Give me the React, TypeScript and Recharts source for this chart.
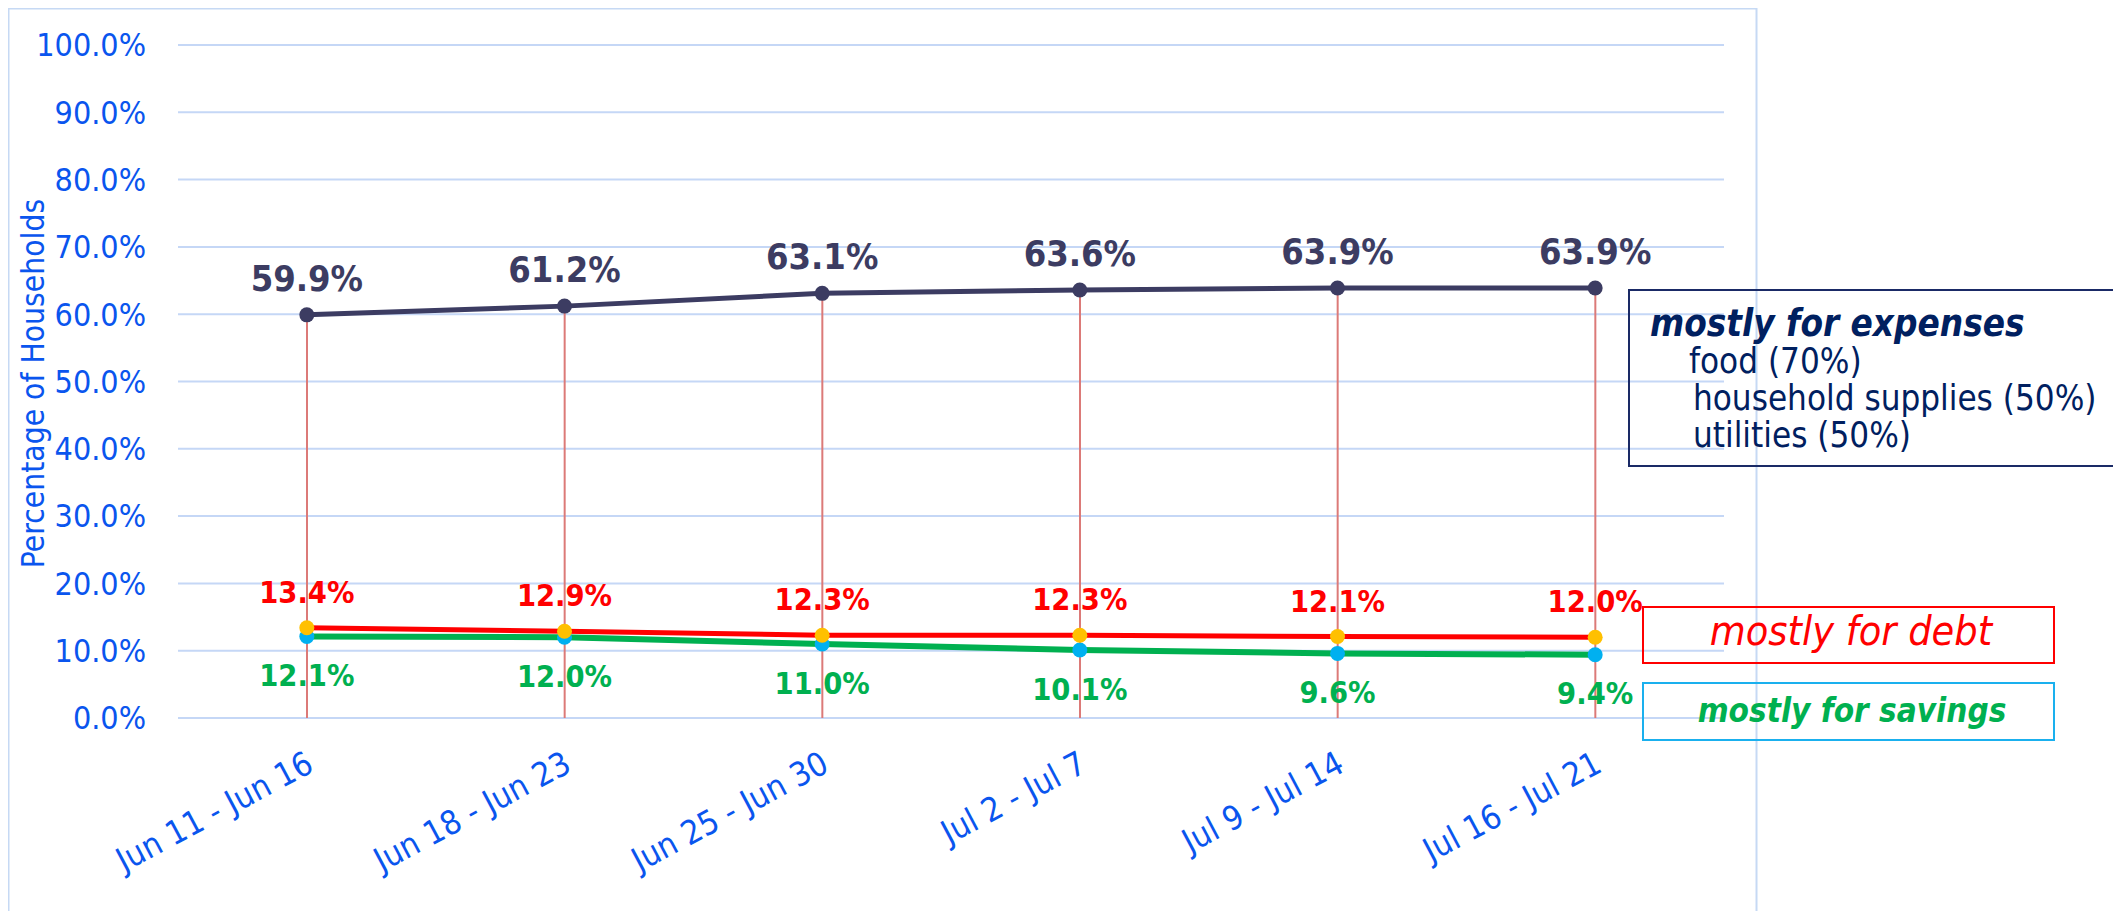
import React from 'react';
import { ComposedChart, Line, Bar, XAxis, YAxis, CartesianGrid, LabelList } from 'recharts';

const categories = ['Jun 11 - Jun 16', 'Jun 18 - Jun 23', 'Jun 25 - Jun 30', 'Jul 2 - Jul 7', 'Jul 9 - Jul 14', 'Jul 16 - Jul 21'];
const expenses = [59.9, 61.2, 63.1, 63.6, 63.9, 63.9];
const debt = [13.4, 12.9, 12.3, 12.3, 12.1, 12.0];
const savings = [12.1, 12.0, 11.0, 10.1, 9.6, 9.4];
const yTicks = [0, 10, 20, 30, 40, 50, 60, 70, 80, 90, 100];
const expensesTitle = 'mostly for expenses';
const expenseNotes = ['food (70%)', 'household supplies (50%)', 'utilities (50%)'];
const debtTitle = 'mostly for debt';
const savingsTitle = 'mostly for savings';
const yAxisTitle = 'Percentage of Households';

const data = categories.map((name, i) => ({
  name,
  expenses: expenses[i],
  debt: debt[i],
  savings: savings[i],
}));

const FONT = "'DejaVu Sans Condensed', 'DejaVu Sans', sans-serif";
const BLUE = '#0a55ee';
const NAVY_LINE = '#3c3c62';
const RED = '#ff0000';
const GREEN = '#00b050';
const pct = (v: any) => `${Number(v).toFixed(1)}%`;

const XTick = (props: any) => {
  const { x, y, payload } = props;
  return (
    <g transform={`translate(${x},${y})`}>
      <text
        transform="rotate(-28)"
        textAnchor="end"
        dx={-3}
        dy={24}
        fill={BLUE}
        fontSize={33}
        fontFamily={FONT}
        style={{ fontStretch: 'condensed' }}
      >
        {payload.value}
      </text>
    </g>
  );
};

const YLabel = (props: any) => {
  const vb = props.viewBox || { x: 0, y: 0, width: 0, height: 0 };
  const cx = vb.x + 33;
  const cy = vb.y + vb.height / 2 + 2;
  return (
    <text
      x={cx}
      y={cy}
      transform={`rotate(-90, ${cx}, ${cy})`}
      textAnchor="middle"
      dominantBaseline="central"
      fill={BLUE}
      fontSize={31.5}
      fontFamily={FONT}
      style={{ fontStretch: 'condensed' }}
    >
      {yAxisTitle}
    </text>
  );
};

export default function App() {
  return (
    <div style={{ position: 'relative', width: 2105, height: 903, fontFamily: FONT }}>
      <style>{'html,body{overflow:hidden}'}</style>
      <div style={{ position: 'absolute', left: -8, top: -8 }}>
        <ComposedChart
          width={2121}
          height={919}
          data={data}
          margin={{ top: 45, right: 397, bottom: 51, left: 0 }}
        >
          <CartesianGrid horizontal vertical={false} stroke="#c5d7f6" strokeWidth={2} />
          <XAxis
            dataKey="name"
            axisLine={false}
            tickLine={false}
            tickSize={0}
            tickMargin={30}
            height={150}
            interval={0}
            tick={<XTick />}
          />
          <YAxis
            domain={[0, 100]}
            ticks={yTicks}
            axisLine={false}
            tickLine={false}
            tickSize={0}
            tickMargin={32}
            width={178}
            tickFormatter={pct}
            tick={{ fill: BLUE, fontSize: 32, fontFamily: FONT, style: { fontStretch: 'condensed' } } as any}
            label={<YLabel />}
          />
          <Bar dataKey="expenses" barSize={2} fill="#dc7a78" isAnimationActive={false} />
          <Line
            dataKey="expenses"
            stroke={NAVY_LINE}
            strokeWidth={5}
            dot={{ r: 7.5, fill: NAVY_LINE, stroke: 'none', strokeWidth: 0 }}
            activeDot={false}
            isAnimationActive={false}
          >
            <LabelList
              dataKey="expenses"
              position="top"
              offset={24}
              formatter={pct}
              fill={NAVY_LINE}
              fontSize={36}
              fontWeight="bold"
              fontFamily={FONT}
            />
          </Line>
          <Line
            dataKey="savings"
            stroke={GREEN}
            strokeWidth={6}
            dot={{ r: 7.5, fill: '#00b0f0', stroke: 'none', strokeWidth: 0 }}
            activeDot={false}
            isAnimationActive={false}
          >
            <LabelList
              dataKey="savings"
              position="bottom"
              offset={28}
              formatter={pct}
              fill={GREEN}
              fontSize={30.5}
              fontWeight="bold"
              fontFamily={FONT}
            />
          </Line>
          <Line
            dataKey="debt"
            stroke={RED}
            strokeWidth={5}
            dot={{ r: 7.5, fill: '#ffc000', stroke: 'none', strokeWidth: 0 }}
            activeDot={false}
            isAnimationActive={false}
          >
            <LabelList
              dataKey="debt"
              position="top"
              offset={25}
              formatter={pct}
              fill={RED}
              fontSize={30.5}
              fontWeight="bold"
              fontFamily={FONT}
            />
          </Line>
        </ComposedChart>
      </div>
      <svg
        width={2121}
        height={919}
        style={{ position: 'absolute', left: -8, top: -8, pointerEvents: 'none', fontStretch: 'condensed' }}
        fontFamily={FONT}
      >
        <rect x={8.5} y={8.5} width={1748} height={1000} fill="none" stroke="#c6d9f4" strokeWidth={2} />
        <rect x={1629} y={290} width={489} height={176} fill="none" stroke="#1a2a66" strokeWidth={2} />
        <text x={1650} y={336} fill="#002060" fontSize={36.5} fontWeight="bold" fontStyle="italic">
          {expensesTitle}
        </text>
        <text x={1689} y={373} fill="#002060" fontSize={34.7}>{expenseNotes[0]}</text>
        <text x={1693} y={410} fill="#002060" fontSize={34.7}>{expenseNotes[1]}</text>
        <text x={1693} y={447} fill="#002060" fontSize={34.7}>{expenseNotes[2]}</text>
        <rect x={1643} y={607} width={411} height={56} fill="none" stroke={RED} strokeWidth={2} />
        <text x={1851} y={645} textAnchor="middle" fill={RED} fontSize={41} fontStyle="italic">
          {debtTitle}
        </text>
        <rect x={1643} y={683} width={411} height={57} fill="none" stroke="#1ab0ee" strokeWidth={2} />
        <text x={1852} y={722} textAnchor="middle" fill={GREEN} fontSize={33} fontWeight="bold" fontStyle="italic">
          {savingsTitle}
        </text>
      </svg>
    </div>
  );
}
